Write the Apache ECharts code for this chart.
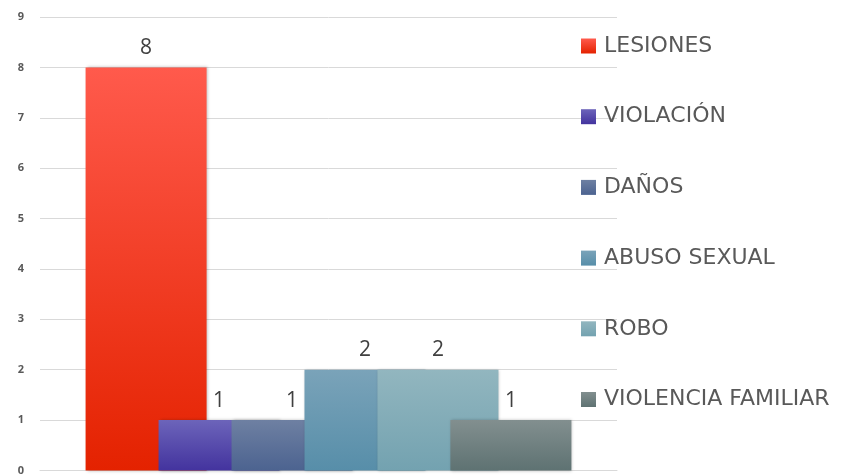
<!DOCTYPE html>
<html>
<head>
<meta charset="utf-8">
<script src="https://cdn.jsdelivr.net/npm/echarts@6/dist/echarts.min.js"></script>
<style>
  html, body { margin: 0; padding: 0; background: #fff; }
  #chart { width: 851px; height: 476px; }
</style>
</head>
<body>
<div id="chart"></div>
<script>
// datos
var categorias = [""];
var delitos = ["LESIONES", "VIOLACIÓN", "DAÑOS", "ABUSO SEXUAL", "ROBO", "VIOLENCIA FAMILIAR"];
var casos = [8, 1, 1, 2, 2, 1];
var yTicks = [0, 1, 2, 3, 4, 5, 6, 7, 8, 9];

// colores degradados (arriba, abajo)
var colores = [
  ["#ff5a4c", "#e42200"],
  ["#6c64ba", "#43339e"],
  ["#6e80a2", "#4c6390"],
  ["#7aa3b9", "#578ea9"],
  ["#92b6bf", "#73a2b0"],
  ["#828f8f", "#5e7272"]
];

var myChart = echarts.init(document.getElementById("chart"));

var series = delitos.map(function (nombre, i) {
  return {
    name: nombre,
    type: "bar",
    data: [casos[i]],
    barWidth: 121,
    barGap: "-39.7%",
    itemStyle: {
      color: new echarts.graphic.LinearGradient(0, 0, 0, 1, [
        { offset: 0, color: colores[i][0] },
        { offset: 1, color: colores[i][1] }
      ]),
      shadowColor: "rgba(0,0,0,0.25)",
      shadowBlur: 3,
      shadowOffsetX: 1
    },
    label: {
      show: true,
      position: "top",
      distance: 9,
      color: "#404040",
      fontSize: 21,
      fontFamily: "Open Sans"
    },
    emphasis: { disabled: true }
  };
});

var option = {
  animation: false,
  grid: { left: 40, right: 234, top: 17, bottom: 5 },
  legend: {
    orient: "vertical",
    left: 581,
    top: 35,
    padding: 0,
    itemWidth: 15,
    itemHeight: 15,
    itemGap: 48.7,
    icon: "rect",
    textStyle: {
      color: "#595959",
      fontSize: 22,
      lineHeight: 21,
      fontFamily: "DejaVu Sans",
      padding: [0, 0, 0, 3]
    },
    data: delitos,
    selectedMode: false
  },
  xAxis: {
    type: "category",
    data: categorias,
    axisLine: { show: true, lineStyle: { color: "#d9d9d9" } },
    axisTick: { show: false },
    axisLabel: { show: false }
  },
  yAxis: {
    type: "value",
    min: yTicks[0],
    max: yTicks[yTicks.length - 1],
    interval: 1,
    axisLine: { show: false },
    axisTick: { show: false },
    axisLabel: {
      color: "#595959",
      fontSize: 11,
      fontWeight: "bold",
      fontFamily: "Open Sans",
      margin: 16
    },
    splitLine: { lineStyle: { color: "#d9d9d9" } }
  },
  series: series
};

myChart.setOption(option);
</script>
</body>
</html>
